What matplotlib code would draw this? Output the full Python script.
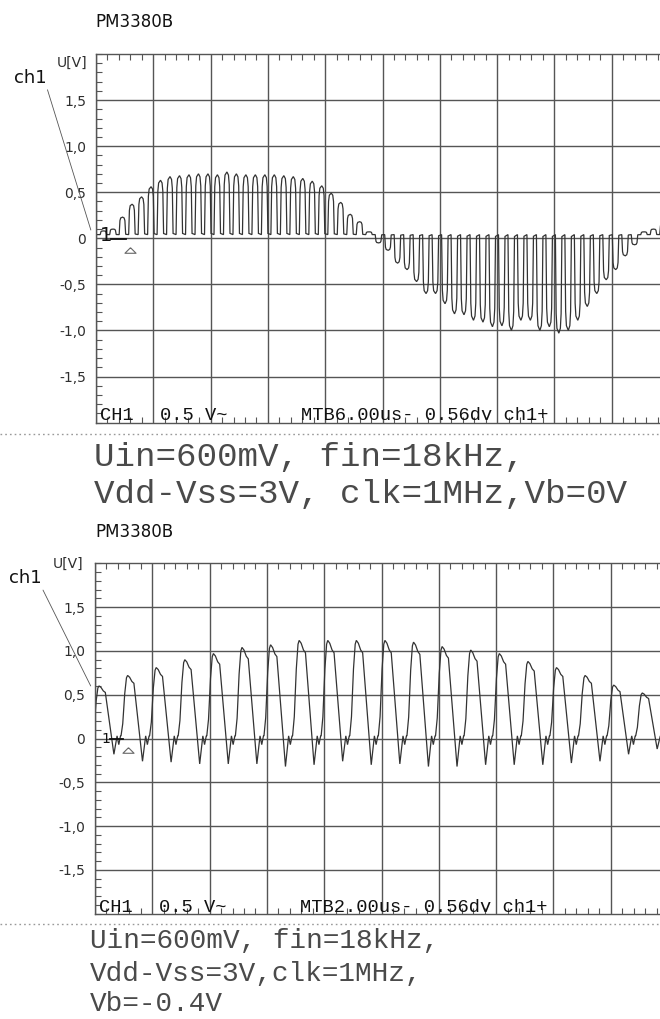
import matplotlib
matplotlib.use("Agg")
import numpy as np
import matplotlib.pyplot as plt
from matplotlib.lines import Line2D
from matplotlib.path import Path
from matplotlib.ticker import MultipleLocator, FixedLocator

W, H, DPI = 660, 1019, 100

# ---------------------------------------------------------------- data
instrument = "PM3380B"
volt_ticks = [-1.5, -1.0, -0.5, 0.0, 0.5, 1.0, 1.5]
volt_labels = ["-1,5", "-1,0", "-0,5", "0", "0,5", "1,0", "1,5"]

# upper screen: 6 us/div, one return-to-zero pulse per clock period
top_us_per_div = 6.0
top_clock_us = 0.993
top_first_pulse_us = 0.8
top_baseline = 0.04
top_pulse_levels = [
    0.08, 0.10, 0.23, 0.37, 0.45, 0.56, 0.63, 0.67, 0.68, 0.69,
    0.70, 0.70, 0.69, 0.72, 0.70, 0.69, 0.69, 0.69, 0.69, 0.68,
    0.67, 0.65, 0.62, 0.57, 0.49, 0.39, 0.26, 0.18, 0.07,
    -0.05, -0.13, -0.27, -0.34, -0.47, -0.60, -0.60, -0.71, -0.82, -0.83,
    -0.89, -0.91, -0.96, -0.95, -1.00, -0.89, -0.89, -1.00, -0.96, -1.03,
    -1.00, -0.89, -0.74, -0.60, -0.45, -0.34, -0.19, -0.07,
    0.07, 0.10, 0.16,
]

# lower screen: 2 us/div, peak and trough of every clock period
bot_us_per_div = 2.0
bot_clock_us = 0.998
bot_first_peak_us = 0.14
bot_peaks = [
    0.60, 0.72, 0.81, 0.90, 0.97, 1.04, 1.07, 1.12, 1.12, 1.12,
    1.12, 1.10, 1.05, 1.01, 0.97, 0.88, 0.81, 0.72, 0.61, 0.52,
]
bot_troughs = [
    -0.18, -0.26, -0.27, -0.29, -0.29, -0.29, -0.32, -0.30, -0.26, -0.30,
    -0.29, -0.32, -0.32, -0.30, -0.30, -0.30, -0.28, -0.26, -0.18, -0.12,
]

# pulse outlines: time offset from the peak (us) and fraction of the pulse height
rz_offsets = [-0.36, -0.32, -0.28, -0.20, 0.0, 0.16, 0.24, 0.28, 0.32]
rz_shape = [0.0, 0.40, 0.80, 0.95, 1.0, 0.95, 0.80, 0.40, 0.02]

hold_floor = 0.03
hold_offsets = [-0.23, -0.17, -0.10, -0.04, 0.0, 0.07, 0.15, 0.22]
hold_shape = [0.0, 0.20, 0.70, 0.96, 1.0, 0.97, 0.90, 0.87]
hold_trough_offset = 0.52
hold_ring_offsets = [0.63, 0.69, 0.75]
hold_ring_levels = [0.03, -0.07, 0.03]

top_status = ["CH1", "0.5 V~", "MTB6.00us- 0.56dv ch1+"]
bot_status = ["CH1", "0.5 V~", "MTB2.00us- 0.56dv ch1+"]
top_caption = ["Uin=600mV, fin=18kHz,", "Vdd-Vss=3V, clk=1MHz,Vb=0V"]
bot_caption = ["Uin=600mV, fin=18kHz,", "Vdd-Vss=3V,clk=1MHz,", "Vb=-0.4V"]

# ---------------------------------------------------------------- traces
def rz_trace(first, period, levels, base):
    t, v = [0.0], [base]
    for k, lv in enumerate(levels):
        tp = first + k * period
        for dt, f in zip(rz_offsets, rz_shape):
            t.append(tp + dt)
            v.append(base + (lv - base) * f)
    return np.array(t), np.array(v)


def hold_trace(first, period, peaks, troughs):
    t, v = [], []
    for k, (a, b) in enumerate(zip(peaks, troughs)):
        tp = first + k * period
        for dt, f in zip(hold_offsets, hold_shape):
            t.append(tp + dt)
            v.append(hold_floor + (a - hold_floor) * f)
        t.append(tp + hold_trough_offset)
        v.append(b)
        for dt, lv in zip(hold_ring_offsets, hold_ring_levels):
            t.append(tp + dt)
            v.append(lv)
    return np.array(t), np.array(v)


# ---------------------------------------------------------------- styling
INK = "#2e2e2e"
GRID = "#555555"
TRACE = "#333333"


def fy(py):
    return 1.0 - py / H


def fx(px):
    return px / W


def screen(ax, us_per_div):
    ax.set_xlim(0, 10 * us_per_div)
    ax.set_ylim(-2, 2)
    ax.xaxis.set_major_locator(MultipleLocator(us_per_div))
    ax.xaxis.set_minor_locator(MultipleLocator(us_per_div / 5))
    ax.yaxis.set_major_locator(FixedLocator(volt_ticks))
    ax.yaxis.set_minor_locator(MultipleLocator(0.1))
    ax.set_yticklabels(volt_labels)
    ax.grid(True, which="major", color=GRID, lw=1.0)
    ax.set_axisbelow(True)
    ax.tick_params(axis="x", which="both", direction="in", top=True,
                   bottom=True, labelbottom=False, length=4, width=0.8,
                   color=GRID)
    ax.tick_params(axis="x", which="major", length=0)
    ax.tick_params(axis="y", which="both", direction="in", left=True,
                   right=False, length=4, width=0.8, color=GRID)
    ax.tick_params(axis="y", which="major", length=0, pad=7,
                   labelsize=10, labelcolor=INK)
    for s in ("left", "top", "bottom"):
        ax.spines[s].set_color(GRID)
        ax.spines[s].set_linewidth(1.0)
    ax.spines["right"].set_visible(False)
    ax.set_facecolor("white")


tri = Path([(0, 0.5), (-1, -0.5), (1, -0.5), (0, 0.5)])

fig = plt.figure(figsize=(W / DPI, H / DPI), dpi=DPI)
fig.patch.set_facecolor("white")

panels = [
    dict(rect=[fx(96), fy(422.6), fx(573), 368.6 / H], div=top_us_per_div,
         trace=rz_trace(top_first_pulse_us, top_clock_us, top_pulse_levels,
                        top_baseline),
         title_y=27.3, unit=(57, 66.5), ch=(14, 83), ch_end=(-0.009, 0.09),
         one=(0.007, -0.03, 14), dash=(0.026, 0.052), tri=(0.060, -0.127),
         status=top_status, sep=434, cap=top_caption, cap_x=94,
         cap_y=[466, 503], cap_size=24.7),
    dict(rect=[fx(95), fy(913.7), fx(573), 350.4 / H], div=bot_us_per_div,
         trace=hold_trace(bot_first_peak_us, bot_clock_us, bot_peaks,
                          bot_troughs),
         title_y=536.6, unit=(53, 568.3), ch=(9, 583.3), ch_end=(-0.0075, 0.60),
         one=(0.011, -0.046, 10), dash=(0.026, 0.049), tri=(0.058, -0.135),
         status=bot_status, sep=923.5, cap=bot_caption, cap_x=90,
         cap_y=[948, 981, 1011], cap_size=20.0),
]

for p in panels:
    ax = fig.add_axes(p["rect"])
    screen(ax, p["div"])
    t, v = p["trace"]
    ax.plot(t, v, color=TRACE, lw=0.9, solid_joinstyle="miter")

    yx = ax.get_yaxis_transform()
    ox, oy, osz = p["one"]
    ax.text(ox, oy, "1", transform=yx, fontsize=osz, color="#111",
            va="baseline", ha="left", family="DejaVu Sans")
    ax.axhline(-0.01, xmin=p["dash"][0], xmax=p["dash"][1], color="#111",
               lw=1.3)
    ax.plot([p["tri"][0]], [p["tri"][1]], transform=yx, marker=tri,
            markersize=8, markerfacecolor="none", markeredgecolor="#666",
            markeredgewidth=0.8, clip_on=False)

    fracs = [0.007, 0.1117, 0.3578]
    for fxp, s in zip(fracs, p["status"]):
        ax.text(fxp, 0.006, s, transform=ax.transAxes, va="baseline",
                ha="left", fontsize=13.5, color="#111",
                family="Liberation Mono")

    ax.annotate("ch1", xy=p["ch_end"], xycoords=yx,
                xytext=(fx(p["ch"][0]), fy(p["ch"][1])),
                textcoords="figure fraction", va="baseline", ha="left",
                fontsize=13, color="#111", family="DejaVu Sans",
                annotation_clip=False,
                arrowprops=dict(arrowstyle="-", color="#555", lw=0.6,
                                shrinkA=0, shrinkB=0, relpos=(1, 0)))

    fig.text(fx(95), fy(p["title_y"]), instrument, fontsize=12,
             color="#111", va="baseline", ha="left", family="DejaVu Sans")
    fig.text(fx(p["unit"][0]), fy(p["unit"][1]), "U[V]", fontsize=10,
             color=INK, va="baseline", ha="left", family="DejaVu Sans")

    fig.add_artist(Line2D([0, 1], [fy(p["sep"])] * 2,
                          transform=fig.transFigure, color="#999999",
                          lw=1.0, ls=(0, (1.2, 2.2))))
    for line, py in zip(p["cap"], p["cap_y"]):
        fig.text(fx(p["cap_x"]), fy(py), line, fontsize=p["cap_size"],
                 color="#4a4a4a", va="baseline", ha="left",
                 family="Liberation Mono")

fig.savefig("out.png", dpi=DPI, facecolor="white")
